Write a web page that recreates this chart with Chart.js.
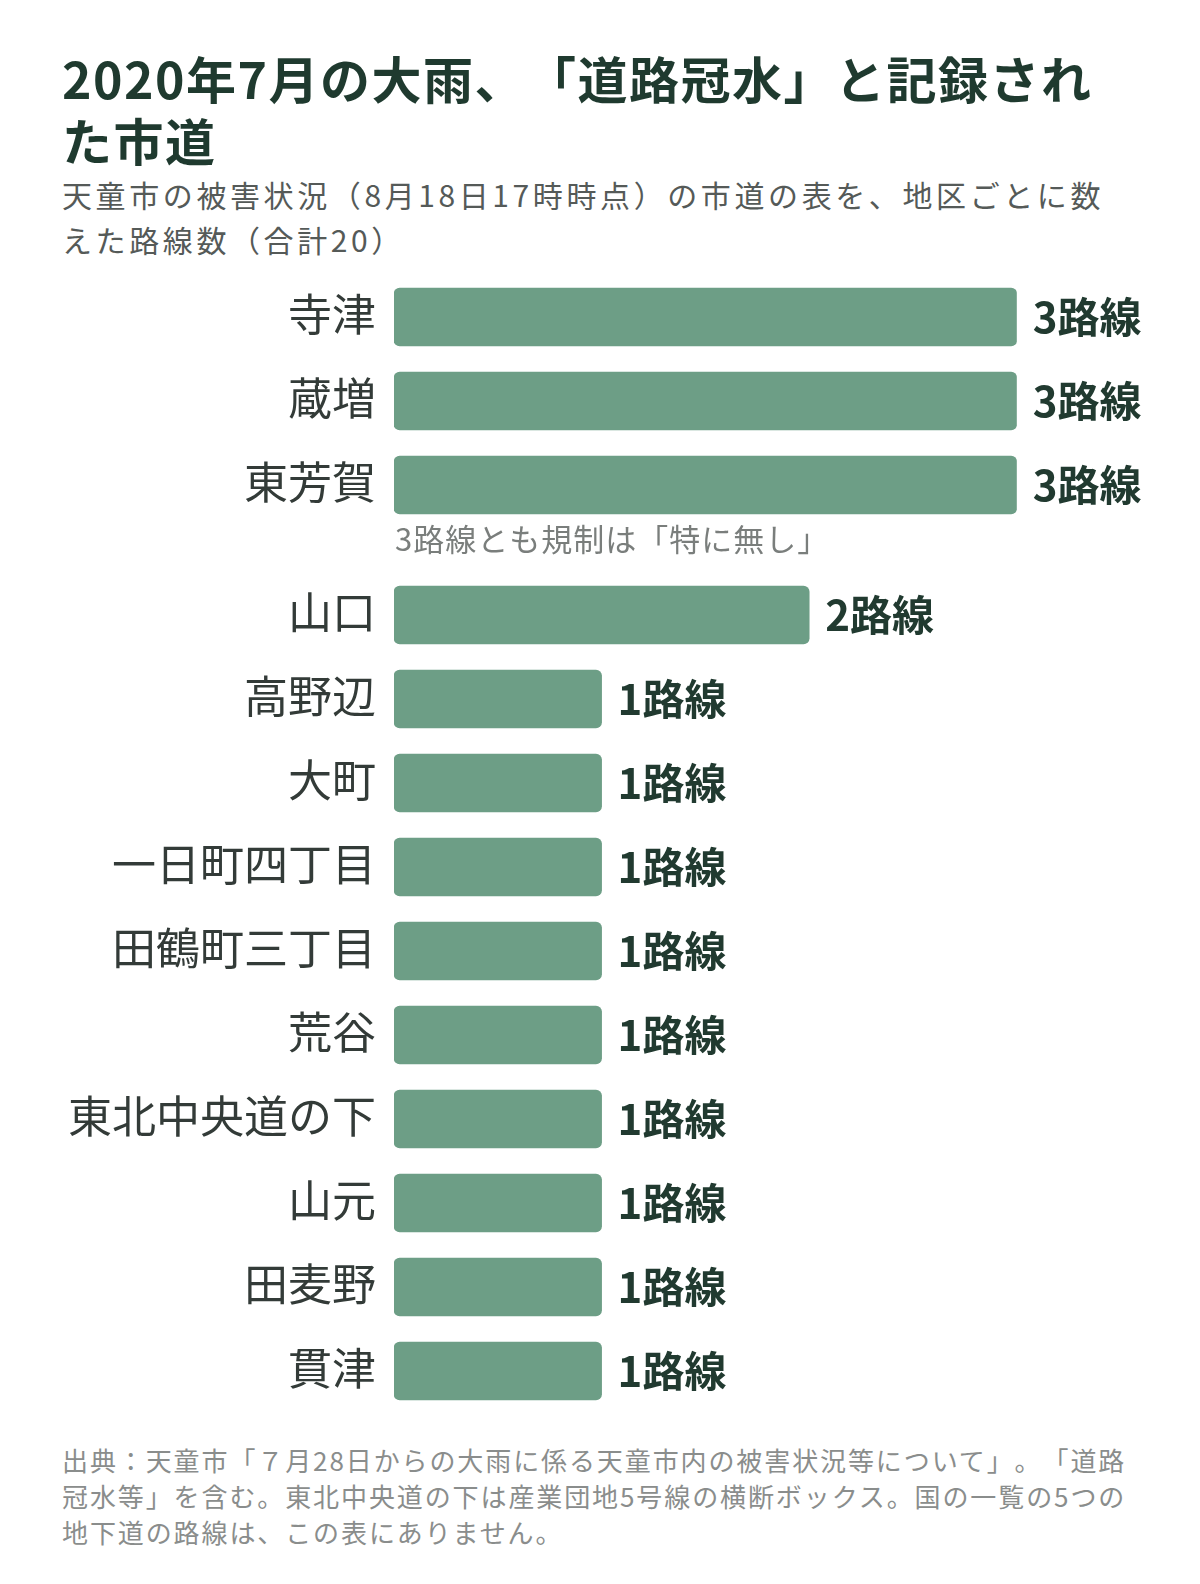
<!DOCTYPE html>
<html lang="ja">
<head>
<meta charset="utf-8">
<script src="https://cdn.jsdelivr.net/npm/chart.js@4/dist/chart.umd.min.js"></script>
<style>
  html, body { margin: 0; padding: 0; background: #ffffff; overflow: hidden; }
  body { width: 1200px; height: 1584px; position: relative; font-family: "Noto Sans CJK JP", "Noto Sans", sans-serif; text-spacing-trim: space-all; }
  #title { position: absolute; left: 62px; top: 46px; margin: 0; font-size: 50px; font-weight: 700; line-height: 62px; color: #1f3a2f; letter-spacing: 1.5px; white-space: nowrap; }
  #subtitle { position: absolute; left: 62px; top: 172px; margin: 0; font-size: 30px; font-weight: 400; line-height: 45px; color: #555a58; letter-spacing: 3.6px; white-space: nowrap; }
  #chart { position: absolute; left: 0; top: 260px; width: 1200px; height: 1160px; display: block; }
  #footer { position: absolute; left: 62px; top: 1442px; margin: 0; font-size: 26px; line-height: 36px; color: #8a8d8c; letter-spacing: 1.9px; white-space: nowrap; }
</style>
</head>
<body>
<h1 id="title">2020年7月の大雨、「道路冠水」と記録され<br>た市道</h1>
<p id="subtitle">天童市の被害状況（8月18日17時時点）の市道の表を、地区ごとに数<br>えた路線数（合計20）</p>
<canvas id="chart" width="1200" height="1160"></canvas>
<p id="footer">出典：天童市「７月28日からの大雨に係る天童市内の被害状況等について」。「道路<br>冠水等」を含む。東北中央道の下は産業団地5号線の横断ボックス。国の一覧の5つの<br>地下道の路線は、この表にありません。</p>
<script>
const categories = ["寺津", "蔵増", "東芳賀", "山口", "高野辺", "大町", "一日町四丁目", "田鶴町三丁目", "荒谷", "東北中央道の下", "山元", "田麦野", "貫津"];
const routeCounts = [3, 3, 3, 2, 1, 1, 1, 1, 1, 1, 1, 1, 1];
const valueSuffix = "路線";
const noteText = "3路線とも規制は「特に無し」";
const noteAfterIndex = 2;

// layout: extra gap (in row units) inserted after the annotated row
const GAP = 0.548;
const rowPos = categories.map((c, i) => i + (i > noteAfterIndex ? GAP : 0));

const FONT = '"Noto Sans CJK JP", "Noto Sans", sans-serif';

const valueLabels = {
  id: 'valueLabels',
  afterDatasetsDraw(chart) {
    const ctx = chart.ctx;
    const meta = chart.getDatasetMeta(0);
    ctx.save();
    ctx.font = '700 42px ' + FONT;
    ctx.fillStyle = '#213a30';
    ctx.textAlign = 'left';
    ctx.textBaseline = 'middle';
    meta.data.forEach((bar, i) => {
      ctx.fillText(routeCounts[i] + valueSuffix, bar.x + 16, bar.y);
    });
    // annotation below the annotated row
    const y = chart.scales.y.getPixelForValue(rowPos[noteAfterIndex] + 0.64);
    ctx.font = '400 31px ' + FONT;
    if ('letterSpacing' in ctx) ctx.letterSpacing = '1px';
    ctx.fillStyle = '#7a7e7c';
    ctx.fillText(noteText, chart.chartArea.left + 1, y);
    ctx.restore();
  }
};

new Chart(document.getElementById('chart'), {
  type: 'bar',
  data: {
    datasets: [{
      data: routeCounts.map((v, i) => ({ x: v, y: rowPos[i] })),
      backgroundColor: '#6d9e86',
      borderRadius: 6,
      borderSkipped: false,
      barThickness: 58
    }]
  },
  options: {
    indexAxis: 'y',
    responsive: false,
    devicePixelRatio: 1,
    animation: false,
    layout: { padding: { top: 15, bottom: 7, left: 0, right: 183.2 } },
    plugins: { legend: { display: false }, tooltip: { enabled: false } },
    scales: {
      x: { type: 'linear', min: 0, max: 3, display: false, offset: false },
      y: {
        type: 'linear',
        offset: false,
        reverse: true,
        min: -0.5,
        max: rowPos[rowPos.length - 1] + 0.5,
        grid: { display: false, drawTicks: false, offset: false },
        border: { display: false },
        afterBuildTicks(scale) { scale.ticks = rowPos.map(v => ({ value: v })); },
        afterFit(scale) { scale.width = 394; scale.paddingTop = 0; scale.paddingBottom = 0; },
        ticks: {
          autoSkip: false,
          padding: 18,
          labelOffset: -3,
          color: '#333b38',
          font: { family: FONT, size: 44, weight: '400' },
          callback(value) {
            const idx = rowPos.findIndex(p => Math.abs(p - value) < 1e-6);
            return idx >= 0 ? categories[idx] : '';
          }
        }
      }
    }
  },
  plugins: [valueLabels]
});
</script>
</body>
</html>
